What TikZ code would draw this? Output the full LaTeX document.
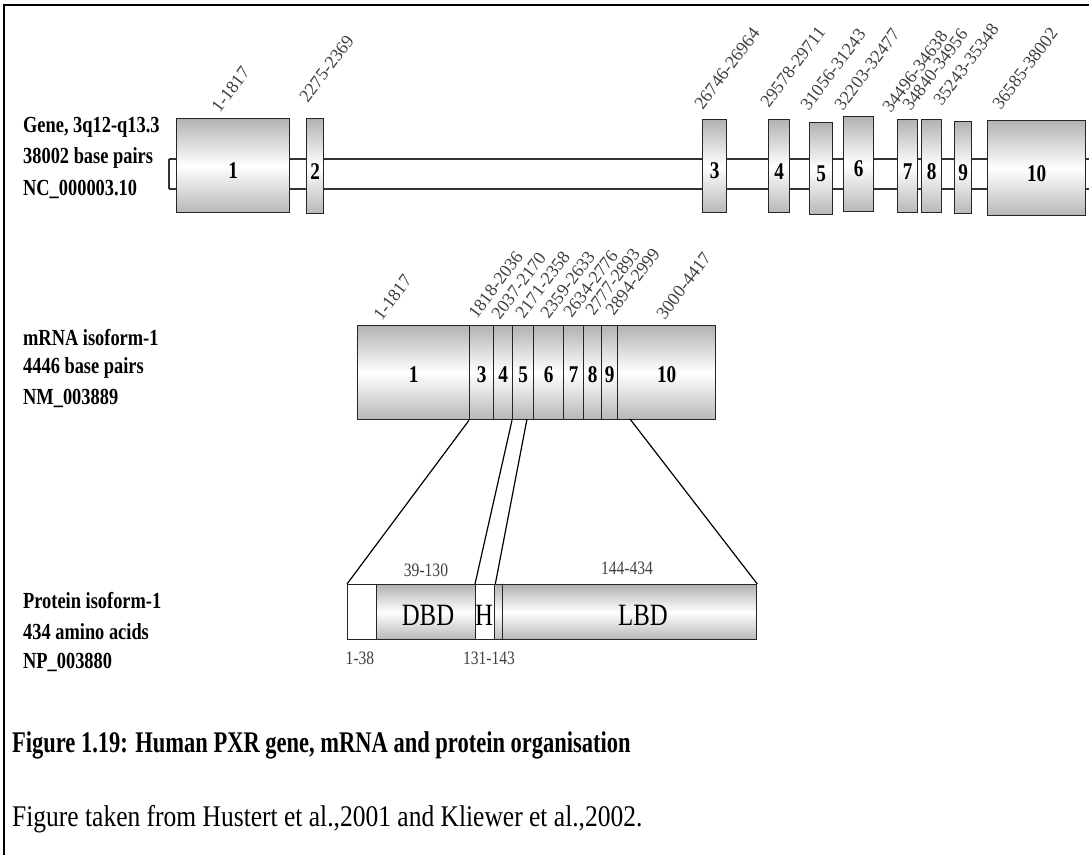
\documentclass[tikz,border=0pt]{standalone}
\usepackage{fontspec}
\setmainfont{Liberation Serif}
\begin{document}
\begin{tikzpicture}[x=1pt,y=-1pt,
  box/.style={draw=black!85, line width=1.3pt, inner sep=0pt, anchor=north west,
     top color=black!30, bottom color=black!28, middle color=white},
  wbox/.style={draw=black!85, line width=1.3pt, inner sep=0pt, anchor=north west, fill=white},
  num/.style={font=\bfseries\fontsize{24}{24}\selectfont, xscale=0.8, inner sep=0pt},
  side/.style={font=\bfseries\fontsize{23}{23}\selectfont, xscale=0.8, anchor=west, inner sep=0pt},
  rot/.style={font=\fontsize{18}{18}\selectfont, rotate=53, anchor=west, inner sep=0pt, text=black!75},
  dom/.style={font=\fontsize{31}{31}\selectfont, xscale=0.8, inner sep=0pt},
  small/.style={font=\fontsize{19}{19}\selectfont, xscale=0.82, inner sep=0pt, text=black!75},
  intron/.style={draw=black!80, line width=1.6pt},
  conn/.style={draw=black, line width=1.2pt}
]
\useasboundingbox (0,0) rectangle (1089,855);
% frame
\draw[line width=2pt] (4,855) -- (4,5) -- (1089,5);

% ---------------- Gene ----------------
\node[side] (g1) at (23,127) {Gene, 3q12-q13.3};
\node[side] (g2) at (23,158) {38002 base pairs};
\node[side] (g3) at (23,189) {NC\_000003.10};

\coordinate (introA) at (169,159);
\coordinate (introB) at (169,189);
\coordinate (introAe) at (1089,159);
\coordinate (introBe) at (1089,189);
\draw[intron] (introA) -- (introAe);
\draw[intron] (introB) -- (introBe);
\draw[intron] (introA) -- (introB);

\node[box, minimum width=113pt, minimum height=94pt] (e1) at (176,118) {};
\node[box, minimum width=17pt, minimum height=95pt] (e2) at (306,118) {};
\node[box, minimum width=24pt, minimum height=93pt] (e3) at (702,119) {};
\node[box, minimum width=21pt, minimum height=93pt] (e4) at (768,119) {};
\node[box, minimum width=23pt, minimum height=92pt] (e5) at (809,122) {};
\node[box, minimum width=30pt, minimum height=95pt] (e6) at (843,116) {};
\node[box, minimum width=20pt, minimum height=93pt] (e7) at (897,119) {};
\node[box, minimum width=20pt, minimum height=93pt] (e8) at (921,119) {};
\node[box, minimum width=17pt, minimum height=92pt] (e9) at (954,121) {};
\node[box, minimum width=98pt, minimum height=95pt] (e10) at (987,120) {};

\foreach \e/\t in {e1/1,e2/2,e3/3,e4/4,e5/5,e6/6,e7/7,e8/8,e9/9,e10/10}
  \node[num] (n\e) at ([yshift=-5pt]\e.center) {\t};

\node[rot] (l1) at (215,110) {1-1817};
\node[rot] (l2) at (303,100) {2275-2369};
\node[rot] (l3) at (698,107) {26746-26964};
\node[rot] (l4) at (764,105) {29578-29711};
\node[rot] (l5) at (804,108) {31056-31243};
\node[rot] (l6) at (838,108) {32203-32477};
\node[rot] (l7) at (886,110) {34496-34638};
\node[rot] (l8) at (906,108) {34840-34956};
\node[rot] (l9) at (937,103) {35243-35348};
\node[rot] (l10) at (996,107) {36585-38002};

% ---------------- mRNA ----------------
\node[side] (r1) at (23,338) {mRNA isoform-1};
\node[side] (r2) at (23,368) {4446 base pairs};
\node[side] (r3) at (23,398) {NM\_003889};

\node[box, minimum width=112pt, minimum height=94pt] (m1) at (357,325) {};
\node[box, minimum width=24pt, minimum height=94pt] (m3) at (469,325) {};
\node[box, minimum width=19pt, minimum height=94pt] (m4) at (493,325) {};
\node[box, minimum width=21pt, minimum height=94pt] (m5) at (512,325) {};
\node[box, minimum width=30pt, minimum height=94pt] (m6) at (533,325) {};
\node[box, minimum width=20pt, minimum height=94pt] (m7) at (563,325) {};
\node[box, minimum width=18pt, minimum height=94pt] (m8) at (583,325) {};
\node[box, minimum width=16pt, minimum height=94pt] (m9) at (601,325) {};
\node[box, minimum width=98pt, minimum height=94pt] (m10) at (617,325) {};
\foreach \e/\t in {m1/1,m3/3,m4/4,m5/5,m6/6,m7/7,m8/8,m9/9,m10/10}
  \node[num] (n\e) at ([yshift=-2pt]\e.center) {\t};

\node[rot] (k1) at (377,318) {1-1817};
\node[rot] (k3) at (472,316) {1818-2036};
\node[rot] (k4) at (495,317) {2037-2170};
\node[rot] (k5) at (519,316) {2171-2358};
\node[rot] (k6) at (544,316) {2359-2633};
\node[rot] (k7) at (567,315) {2634-2776};
\node[rot] (k8) at (589,313) {2777-2893};
\node[rot] (k9) at (609,313) {2894-2999};
\node[rot] (k10) at (660,317) {3000-4417};

% ---------------- Protein ----------------
\node[side] (q1) at (23,601) {Protein isoform-1};
\node[side] (q2) at (23,632) {434 amino acids};
\node[side] (q3) at (23,662) {NP\_003880};

\node[wbox, minimum width=29pt, minimum height=55pt] (p0) at (347,584) {};
\node[box, minimum width=99pt, minimum height=55pt] (pD) at (376,584) {};
\node[wbox, minimum width=19pt, minimum height=55pt] (pH) at (475,584) {};
\node[box, minimum width=8pt, minimum height=55pt] (pN) at (494,584) {};
\node[box, minimum width=254pt, minimum height=55pt] (pL) at (502,584) {};

\node[dom] (tD) at (428,615) {DBD};
\node[dom] (tH) at (484,615) {H};
\node[dom] (tL) at (643,615) {LBD};
\node[small] (s1) at (426,570) {39-130};
\node[small] (s2) at (627,568) {144-434};
\node[small] (s3) at (360,658) {1-38};
\node[small] (s4) at (489,658) {131-143};

% connectors mRNA -> protein
\coordinate (c5b) at (527,419);
\coordinate (c10b) at (630,419);
\draw[conn] (m3.south west) -- (p0.north west);
\draw[conn] (m5.south west) -- (pH.north west);
\draw[conn] (c5b) -- (pH.north east);
\draw[conn] (c10b) -- (pL.north east);

% ---------------- Caption ----------------
\node[font=\bfseries\fontsize{30}{30}\selectfont, xscale=0.75, anchor=west, inner sep=0pt] (cap1) at (12,745) {Figure 1.19: Human PXR gene, mRNA and protein organisation};
\node[font=\fontsize{30}{30}\selectfont, xscale=0.85, anchor=west, inner sep=0pt] (cap2) at (12,819) {Figure taken from Hustert et al.,2001 and Kliewer et al.,2002.};
\end{tikzpicture}
\end{document}
